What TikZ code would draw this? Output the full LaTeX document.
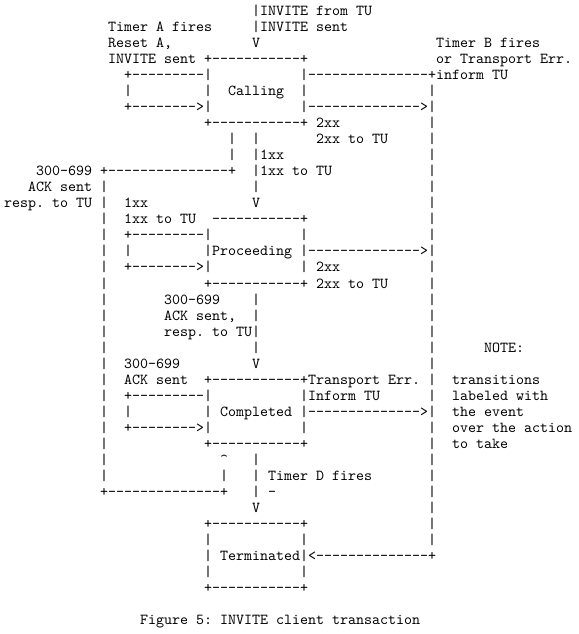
\documentclass[tikz,border=0pt]{standalone}
\usepackage{fontspec}
\setmonofont{lmmono10-regular.otf}
\frenchspacing
\newcommand\asciiseg[3]{\node[seg] (s#1-#2) at ({4+8*#2},{16+16*#1}) {#3};}
\begin{document}
\begin{tikzpicture}[x=0.75pt,y=-0.75pt,
  seg/.style={anchor=base west,inner sep=0pt,outer sep=0pt,text=black,
    font=\ttfamily\fontsize{11.43}{13.7}\selectfont}]
\useasboundingbox[fill=white] (0,0) rectangle (578,634);
% line 0
\asciiseg{0}{31}{|INVITE from TU}
% line 1
\asciiseg{1}{13}{Timer A fires}
\asciiseg{1}{31}{|INVITE sent}
% line 2
\asciiseg{2}{13}{Reset A,}
\asciiseg{2}{31}{V}
\asciiseg{2}{54}{Timer B fires}
% line 3
\asciiseg{3}{13}{INVITE sent +-----------+}
\asciiseg{3}{54}{or Transport Err.}
% line 4
\asciiseg{4}{15}{+---------|}
\asciiseg{4}{37}{|---------------+inform TU}
% line 5
\asciiseg{5}{15}{|}
\asciiseg{5}{25}{|}
\asciiseg{5}{28}{Calling}
\asciiseg{5}{37}{|}
\asciiseg{5}{53}{|}
% line 6
\asciiseg{6}{15}{+-------->|}
\asciiseg{6}{37}{|-------------->|}
% line 7
\asciiseg{7}{25}{+-----------+ 2xx}
\asciiseg{7}{53}{|}
% line 8
\asciiseg{8}{28}{|}
\asciiseg{8}{31}{|}
\asciiseg{8}{39}{2xx to TU}
\asciiseg{8}{53}{|}
% line 9
\asciiseg{9}{28}{|}
\asciiseg{9}{31}{|1xx}
\asciiseg{9}{53}{|}
% line 10
\asciiseg{10}{4}{300-699 +---------------+}
\asciiseg{10}{31}{|1xx to TU}
\asciiseg{10}{53}{|}
% line 11
\asciiseg{11}{3}{ACK sent |}
\asciiseg{11}{31}{|}
\asciiseg{11}{53}{|}
% line 12
\asciiseg{12}{0}{resp. to TU |}
\asciiseg{12}{15}{1xx}
\asciiseg{12}{31}{V}
\asciiseg{12}{53}{|}
% line 13
\asciiseg{13}{12}{|}
\asciiseg{13}{15}{1xx to TU}
\asciiseg{13}{26}{-----------+}
\asciiseg{13}{53}{|}
% line 14
\asciiseg{14}{12}{|}
\asciiseg{14}{15}{+---------|}
\asciiseg{14}{37}{|}
\asciiseg{14}{53}{|}
% line 15
\asciiseg{15}{12}{|}
\asciiseg{15}{15}{|}
\asciiseg{15}{25}{|Proceeding |-------------->|}
% line 16
\asciiseg{16}{12}{|}
\asciiseg{16}{15}{+-------->|}
\asciiseg{16}{37}{| 2xx}
\asciiseg{16}{53}{|}
% line 17
\asciiseg{17}{12}{|}
\asciiseg{17}{25}{+-----------+ 2xx to TU}
\asciiseg{17}{53}{|}
% line 18
\asciiseg{18}{12}{|}
\asciiseg{18}{20}{300-699}
\asciiseg{18}{31}{|}
\asciiseg{18}{53}{|}
% line 19
\asciiseg{19}{12}{|}
\asciiseg{19}{20}{ACK sent,}
\asciiseg{19}{31}{|}
\asciiseg{19}{53}{|}
% line 20
\asciiseg{20}{12}{|}
\asciiseg{20}{20}{resp. to TU|}
\asciiseg{20}{53}{|}
% line 21
\asciiseg{21}{12}{|}
\asciiseg{21}{31}{|}
\asciiseg{21}{53}{|}
\asciiseg{21}{60}{NOTE:}
% line 22
\asciiseg{22}{12}{|}
\asciiseg{22}{15}{300-699}
\asciiseg{22}{31}{V}
\asciiseg{22}{53}{|}
% line 23
\asciiseg{23}{12}{|}
\asciiseg{23}{15}{ACK sent}
\asciiseg{23}{25}{+-----------+Transport Err. |}
\asciiseg{23}{56}{transitions}
% line 24
\asciiseg{24}{12}{|}
\asciiseg{24}{15}{+---------|}
\asciiseg{24}{37}{|Inform TU}
\asciiseg{24}{53}{|}
\asciiseg{24}{56}{labeled with}
% line 25
\asciiseg{25}{12}{|}
\asciiseg{25}{15}{|}
\asciiseg{25}{25}{| Completed |-------------->|}
\asciiseg{25}{56}{the event}
% line 26
\asciiseg{26}{12}{|}
\asciiseg{26}{15}{+-------->|}
\asciiseg{26}{37}{|}
\asciiseg{26}{53}{|}
\asciiseg{26}{56}{over the action}
% line 27
\asciiseg{27}{12}{|}
\asciiseg{27}{25}{+-----------+}
\asciiseg{27}{53}{|}
\asciiseg{27}{56}{to take}
% line 28
\asciiseg{28}{12}{|}
\asciiseg{28}{27}{\textasciicircum}
\asciiseg{28}{31}{|}
\asciiseg{28}{53}{|}
% line 29
\asciiseg{29}{12}{|}
\asciiseg{29}{27}{|}
\asciiseg{29}{31}{| Timer D fires}
\asciiseg{29}{53}{|}
% line 30
\asciiseg{30}{12}{+--------------+}
\asciiseg{30}{31}{| -}
\asciiseg{30}{53}{|}
% line 31
\asciiseg{31}{31}{V}
\asciiseg{31}{53}{|}
% line 32
\asciiseg{32}{25}{+-----------+}
\asciiseg{32}{53}{|}
% line 33
\asciiseg{33}{25}{|}
\asciiseg{33}{37}{|}
\asciiseg{33}{53}{|}
% line 34
\asciiseg{34}{25}{| Terminated|<--------------+}
% line 35
\asciiseg{35}{25}{|}
\asciiseg{35}{37}{|}
% line 36
\asciiseg{36}{25}{+-----------+}
% caption
\asciiseg{38}{17}{Figure 5: INVITE client transaction}
\end{tikzpicture}
\end{document}
